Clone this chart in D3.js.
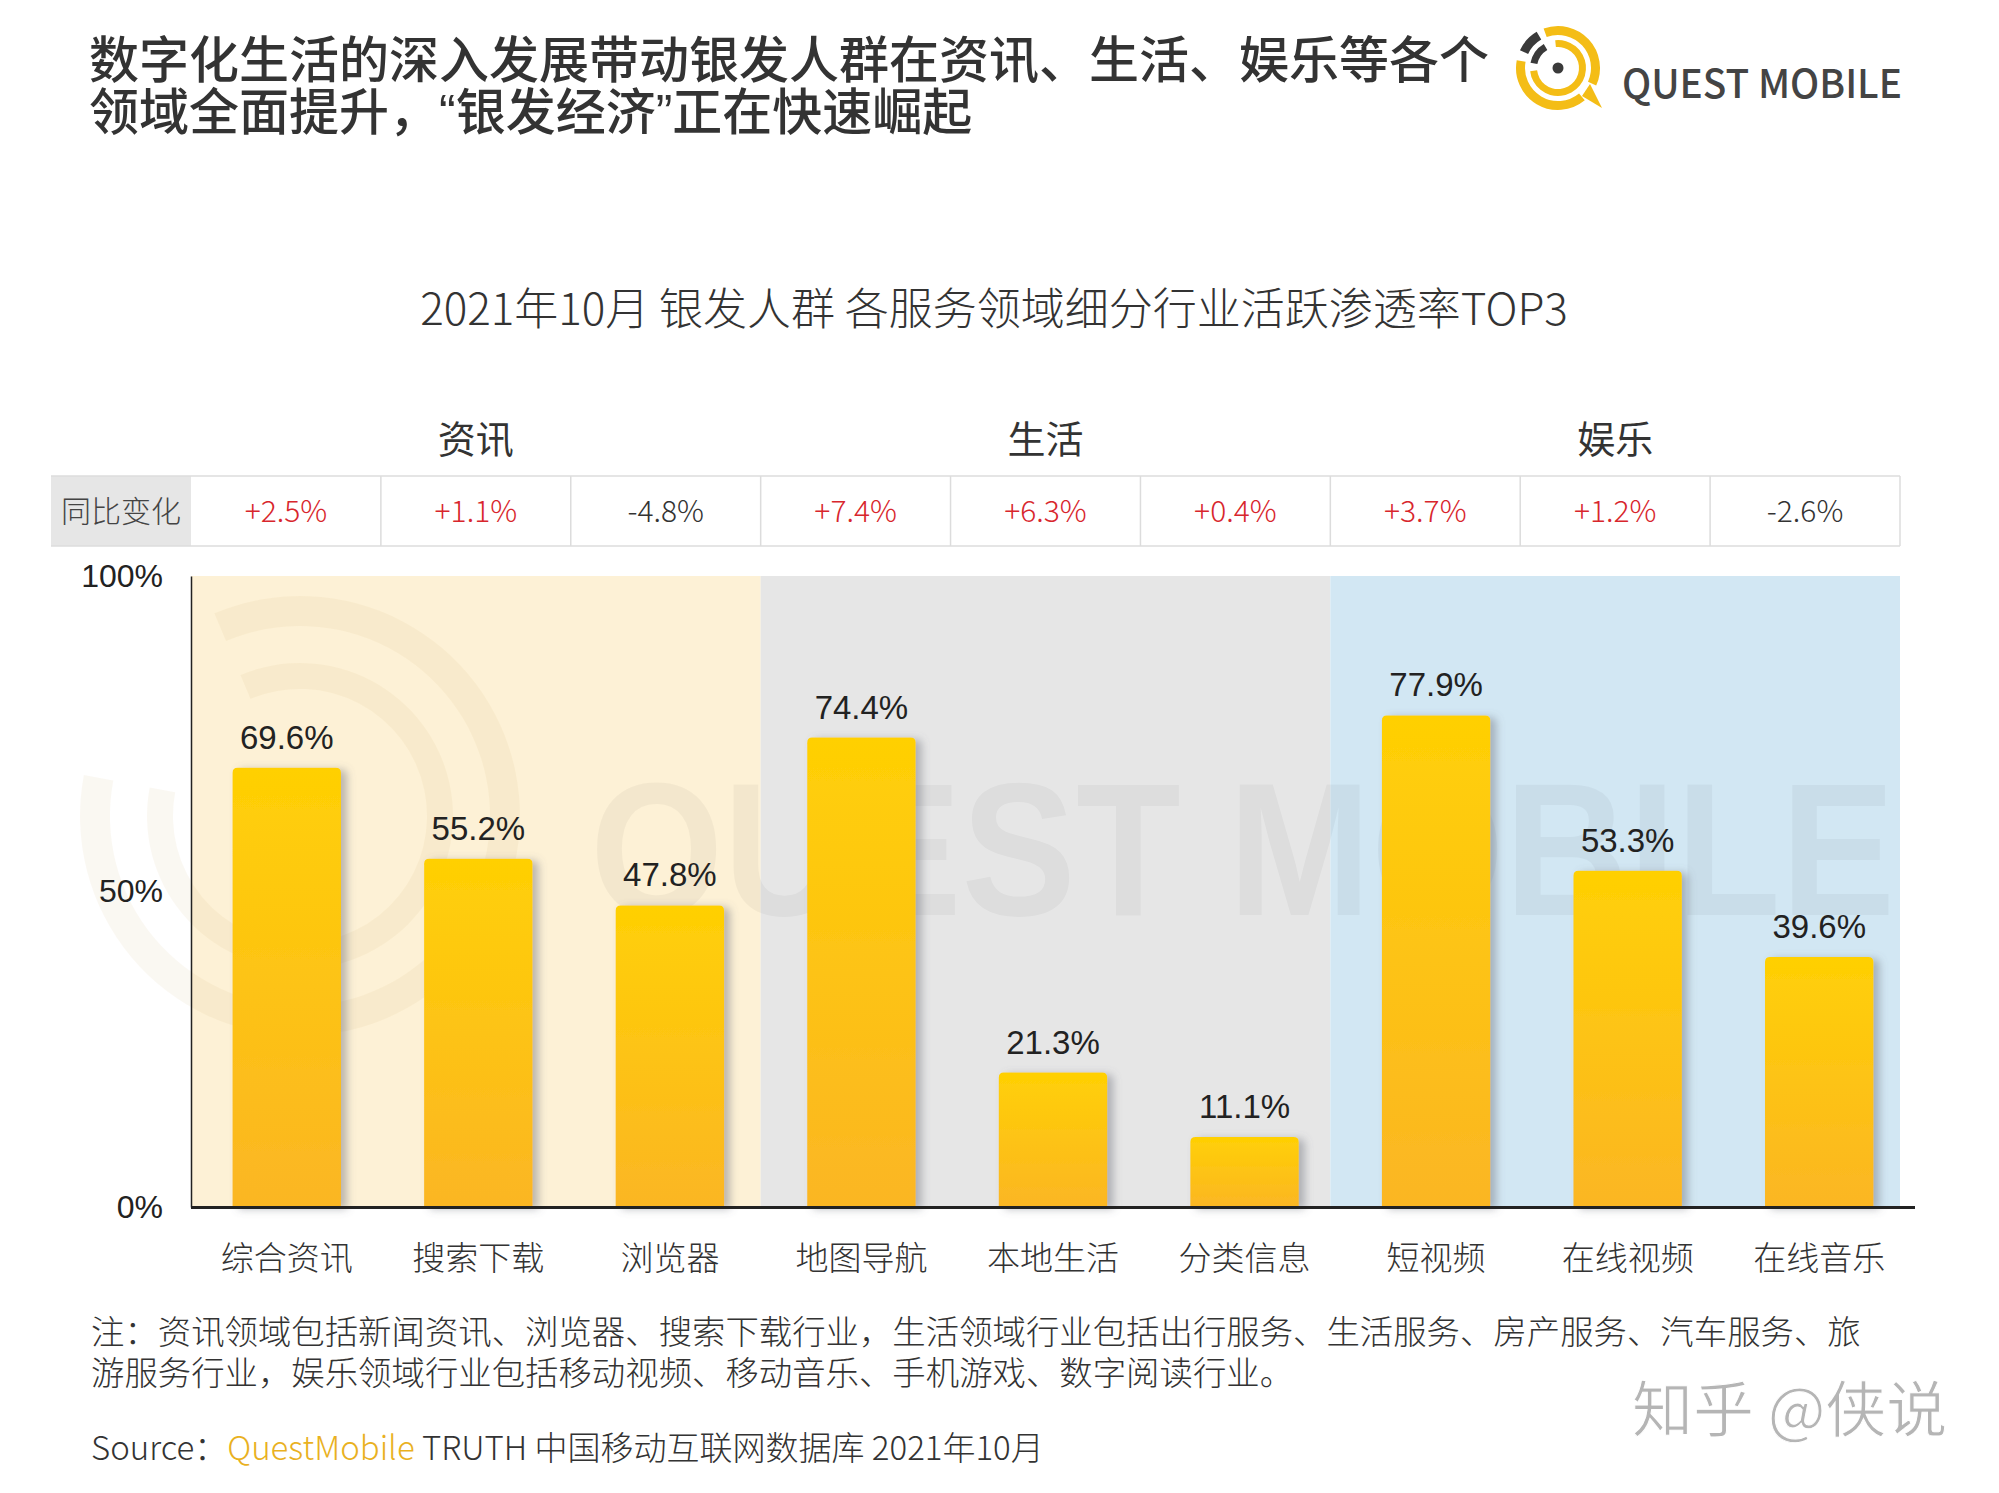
<!DOCTYPE html>
<html>
<head>
<meta charset="utf-8">
<script src="https://cdn.jsdelivr.net/npm/d3@7"></script>
<style>
  html, body { margin: 0; padding: 0; background: #fff; }
  svg { display: block; }
  .cjk { font-family: "Noto Sans CJK SC", "Noto Sans", sans-serif; }
  .num { font-family: "Liberation Sans", Arial, sans-serif; }
</style>
</head>
<body>
<svg id="chart" width="1999" height="1493"></svg>
<script>
// ---------- data ----------
const categories = ["综合资讯", "搜索下载", "浏览器", "地图导航", "本地生活", "分类信息", "短视频", "在线视频", "在线音乐"];
const values = [69.6, 55.2, 47.8, 74.4, 21.3, 11.1, 77.9, 53.3, 39.6];
const yoyChange = ["+2.5%", "+1.1%", "-4.8%", "+7.4%", "+6.3%", "+0.4%", "+3.7%", "+1.2%", "-2.6%"];
const groups = ["资讯", "生活", "娱乐"];
const groupSize = [3, 3, 3];
const yTicks = [0, 50, 100];
const titleLine1 = "数字化生活的深入发展带动银发人群在资讯、生活、娱乐等各个";
const titleLine2 = ["领域全面提升，", "“", "银发经济", "”", "正在快速崛起"];
const chartTitle = "2021年10月 银发人群 各服务领域细分行业活跃渗透率TOP3";
const rowLabel = "同比变化";
const noteLines = ["注：资讯领域包括新闻资讯、浏览器、搜索下载行业，生活领域行业包括出行服务、生活服务、房产服务、汽车服务、旅",
                   "游服务行业，娱乐领域行业包括移动视频、移动音乐、手机游戏、数字阅读行业。"];

// ---------- layout ----------
const svg = d3.select("#chart");
const pLeft = 191, pRight = 1900, pTop = 576, pBottom = 1207, axisRight = 1915;
const groupColors = ["#fdf1d6", "#e6e6e6", "#d2e7f3"];

// bars use a slightly wider band than the table/background cells (as in the reference)
const x = d3.scaleBand().domain(categories).range([pLeft, axisRight]).paddingInner(0.434).paddingOuter(0.217);
const xCell = d3.scaleBand().domain(categories).range([pLeft, pRight]);
const y = d3.scaleLinear().domain([0, 100]).range([pBottom, pTop]);
const cell = xCell.step();

// defs
const defs = svg.append("defs");
const grad = defs.append("linearGradient").attr("id", "barGrad").attr("x1", 0).attr("y1", 0).attr("x2", 0).attr("y2", 1);
grad.append("stop").attr("offset", "0%").attr("stop-color", "#ffd004");
grad.append("stop").attr("offset", "100%").attr("stop-color", "#fbb624");
const filt = defs.append("filter").attr("id", "shadow").attr("x", "-20%").attr("y", "-10%").attr("width", "150%").attr("height", "130%");
filt.append("feDropShadow").attr("dx", 6).attr("dy", 2).attr("stdDeviation", 4).attr("flood-color", "#6a7078").attr("flood-opacity", 0.45);

// ---------- header title ----------
svg.append("text").attr("class", "cjk")
  .attr("x", 89).attr("y", 78)
  .attr("font-size", 50).attr("font-weight", 500).attr("fill", "#333")
  .text(titleLine1);
const t2 = svg.append("text").attr("class", "cjk")
  .attr("x", 89).attr("y", 130)
  .attr("font-size", 50).attr("font-weight", 500).attr("fill", "#333");
titleLine2.forEach(s => {
  const sp = t2.append("tspan").text(s);
  if (s === "“" || s === "”") sp.attr("font-family", "Liberation Sans, Arial, sans-serif");
});

// ---------- logo ----------
const logo = svg.append("g").attr("transform", "translate(1558,68)");
const arcGen = d3.arc();
logo.append("path").attr("d", arcGen({innerRadius: 33, outerRadius: 42, startAngle: -0.35, endAngle: 2.0})).attr("fill", "#f4bd16");
logo.append("path").attr("d", arcGen({innerRadius: 33, outerRadius: 42, startAngle: 2.45, endAngle: 4.9})).attr("fill", "#f4bd16");
logo.append("path").attr("d", "M24,28 L44,40 L32,16 Z").attr("fill", "#f4bd16");
logo.append("path").attr("d", arcGen({innerRadius: 21, outerRadius: 28, startAngle: -0.1, endAngle: 4.6})).attr("fill", "#f4bd16");
logo.append("path").attr("d", arcGen({innerRadius: 33, outerRadius: 42, startAngle: 5.15, endAngle: 5.75})).attr("fill", "#3a3a3a");
logo.append("path").attr("d", arcGen({innerRadius: 21, outerRadius: 28, startAngle: 4.9, endAngle: 5.75})).attr("fill", "#3a3a3a");
logo.append("circle").attr("r", 5.5).attr("fill", "#3a3a3a");
svg.append("text").attr("class", "cjk")
  .attr("x", 1622).attr("y", 98).attr("font-size", 40).attr("font-weight", 500)
  .attr("fill", "#444").attr("textLength", 280).attr("lengthAdjust", "spacingAndGlyphs")
  .text("QUEST MOBILE");

// ---------- chart title ----------
svg.append("text").attr("class", "cjk")
  .attr("x", 994).attr("y", 325).attr("text-anchor", "middle")
  .attr("font-size", 44).attr("font-weight", 300).attr("fill", "#333")
  .text(chartTitle);

// ---------- group labels & backgrounds ----------
let start = 0;
const groupSpans = groups.map((g, i) => {
  const s = start; start += groupSize[i];
  return {name: g, x0: pLeft + s * cell, x1: pLeft + start * cell, color: groupColors[i]};
});
svg.append("g").selectAll("rect").data(groupSpans).join("rect")
  .attr("x", d => d.x0).attr("y", pTop).attr("width", d => d.x1 - d.x0).attr("height", pBottom - pTop)
  .attr("fill", d => d.color);
svg.append("g").selectAll("text").data(groupSpans).join("text")
  .attr("class", "cjk")
  .attr("x", d => (d.x0 + d.x1) / 2).attr("y", 453).attr("text-anchor", "middle")
  .attr("font-size", 38).attr("fill", "#333").text(d => d.name);

// ---------- watermark inside plot ----------
const wm = svg.append("g").attr("opacity", 0.05);
[[205, 30], [140, 26]].forEach(([r, w]) => {
  wm.append("path").attr("transform", "translate(300,816)")
    .attr("d", arcGen({innerRadius: r - w / 2, outerRadius: r + w / 2, startAngle: -0.4, endAngle: 4.9}))
    .attr("fill", "#b08020");
});
svg.append("text").attr("class", "num")
  .attr("x", 590).attr("y", 915).attr("font-size", 190).attr("font-weight", 700)
  .attr("fill", "#000").attr("opacity", 0.035).attr("textLength", 1305).attr("lengthAdjust", "spacingAndGlyphs")
  .text("QUEST MOBILE");

// ---------- table row ----------
const tTop = 476, tBot = 546;
const table = svg.append("g");
table.append("rect").attr("x", 51).attr("y", tTop).attr("width", pLeft - 51).attr("height", tBot - tTop).attr("fill", "#e6e6e6");
table.append("line").attr("x1", 51).attr("x2", pRight).attr("y1", tTop).attr("y2", tTop).attr("stroke", "#dcdcdc").attr("stroke-width", 1.5);
table.append("line").attr("x1", 51).attr("x2", pRight).attr("y1", tBot).attr("y2", tBot).attr("stroke", "#dcdcdc").attr("stroke-width", 1.5);
table.selectAll("line.sep").data(categories).join("line").attr("class", "sep")
  .attr("x1", d => xCell(d) + cell).attr("x2", d => xCell(d) + cell)
  .attr("y1", tTop).attr("y2", tBot).attr("stroke", "#dcdcdc").attr("stroke-width", 1.5);
table.append("text").attr("class", "cjk").attr("x", 121).attr("y", 522).attr("text-anchor", "middle")
  .attr("font-size", 30).attr("font-weight", 300).attr("fill", "#444").text(rowLabel);
table.selectAll("text.v").data(categories).join("text").attr("class", "v cjk")
  .attr("x", d => xCell(d) + cell / 2).attr("y", 522).attr("text-anchor", "middle")
  .attr("font-size", 30).attr("font-weight", 300).attr("fill", (d, i) => yoyChange[i].startsWith("-") ? "#333" : "#d8262c")
  .text((d, i) => yoyChange[i]);

// ---------- bars ----------
const data = categories.map((c, i) => ({c, v: values[i]}));
svg.append("g").selectAll("path").data(data).join("path")
  .attr("filter", "url(#shadow)")
  .attr("fill", "url(#barGrad)")
  .attr("d", d => {
    const x0 = x(d.c), w = x.bandwidth(), y0 = y(d.v), y1 = y(0), r = 5;
    return `M${x0},${y1} L${x0},${y0 + r} Q${x0},${y0} ${x0 + r},${y0} L${x0 + w - r},${y0} Q${x0 + w},${y0} ${x0 + w},${y0 + r} L${x0 + w},${y1} Z`;
  });
svg.append("g").selectAll("text").data(data).join("text").attr("class", "num")
  .attr("x", d => x(d.c) + x.bandwidth() / 2).attr("y", d => y(d.v) - 19)
  .attr("text-anchor", "middle").attr("font-size", 33).attr("fill", "#222")
  .text(d => d.v.toFixed(1) + "%");

// ---------- axes ----------
const yAxis = d3.axisLeft(y).tickValues(yTicks).tickSize(0).tickPadding(28).tickFormat(d => d + "%");
const gy = svg.append("g").attr("transform", `translate(${pLeft},0)`).call(yAxis);
gy.select(".domain").attr("stroke", "#222").attr("stroke-width", 1.5);
gy.selectAll("text").attr("class", "num").attr("font-size", 32).attr("fill", "#222");

const xAxis = d3.axisBottom(x).tickSize(0).tickPadding(40);
const gx = svg.append("g").attr("transform", `translate(0,${pBottom})`).call(xAxis);
gx.select(".domain").attr("d", `M${pLeft},0.5H${axisRight}`).attr("stroke", "#222").attr("stroke-width", 3);
gx.selectAll("text").attr("class", "cjk").attr("font-size", 33).attr("font-weight", 300).attr("fill", "#333");

// ---------- notes ----------
svg.append("g").selectAll("text").data(noteLines).join("text").attr("class", "cjk")
  .attr("x", 91).attr("y", (d, i) => 1344 + i * 41).attr("font-size", 33.4).attr("font-weight", 300).attr("fill", "#333")
  .text(d => d);
const src = svg.append("text").attr("class", "cjk").attr("x", 91).attr("y", 1460).attr("font-size", 33)
  .attr("font-weight", 300).attr("fill", "#333");
src.append("tspan").text("Source：");
src.append("tspan").attr("fill", "#e9b11f").text("QuestMobile");
src.append("tspan").text(" TRUTH 中国移动互联网数据库 2021年10月");

// ---------- platform watermark ----------
svg.append("text").attr("class", "cjk").attr("x", 1632).attr("y", 1432).attr("font-size", 61)
  .attr("fill", "#b5b5b5").attr("stroke", "#fff").attr("stroke-width", 1).text("知乎 @侠说");
</script>
</body>
</html>
